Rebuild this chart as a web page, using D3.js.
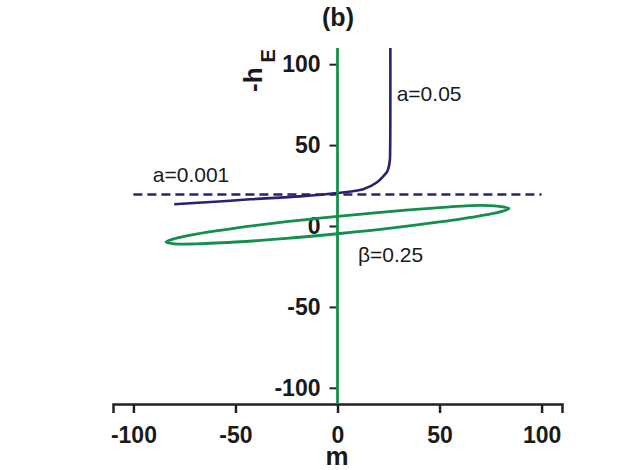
<!DOCTYPE html>
<html>
<head>
<meta charset="utf-8">
<script src="https://cdn.jsdelivr.net/npm/d3@7"></script>
<style>
  body { margin: 0; background: #fff; }
  svg text { font-family: "Liberation Sans", Arial, Helvetica, sans-serif; }
</style>
</head>
<body>
<div id="chart"></div>
<script>
// Data (m on x, -h_E on y)
var xTicks = [-100, -50, 0, 50, 100];
var yTicks = [-100, -50, 0, 50, 100];

// a=0.05 branch (solid navy)
var curveA005 = [
  [-80, 13.4], [-60, 15.0], [-42.8, 16.5], [-18.3, 18.3], [0, 20.4],
  [12.6, 22.7], [19.4, 27.0], [22.4, 30.7], [24.4, 33.8], [25.6, 40],
  [25.8, 47.3], [25.9, 78], [25.9, 110]
];

// a=0.001 (dashed navy, flat)
var lineA0001 = [[-100, 19.5], [100, 19.5]];

// beta=0.25 loop (green), traced round
var loopBeta = [
  [-84, -10.0], [-80, -7.9], [-70, -5.1], [-50, -1.3], [-25, 2.7], [0, 6.0],
  [25, 8.9], [50, 11.3], [65, 12.6], [75, 12.6], [81, 11.8], [84, 10.8],
  [81, 9.2], [70, 6.3], [50, 2.5], [25, -1.5], [0, -4.8], [-25, -7.7],
  [-50, -9.9], [-70, -11.1], [-80, -11.0]
];

// m = 0 branch (green vertical)
var lineM0 = [[0, -110], [0, 110]];

var labels = [
  {text: "a=0.05", m: 29.0, h: 77.5},
  {text: "a=0.001", m: -90.5, h: 27.5},
  {text: "\u03b2=0.25", m: 10.0, h: -22.5}
];

var navy = "#29226f";
var green = "#14904a";

var width = 622, height = 470;

var svg = d3.select("#chart").append("svg")
  .attr("width", width)
  .attr("height", height);

var x = d3.scaleLinear().domain([-110, 110]).range([113, 562]);
var y = d3.scaleLinear().domain([-110, 110]).range([404, 48]);

var line = d3.line()
  .x(function(d) { return x(d[0]); })
  .y(function(d) { return y(d[1]); });

// plain hyphen for negatives, like the original
var fmt = function(d) { return String(d); };

// x axis
var xAxis = svg.append("g")
  .attr("transform", "translate(0," + y(-110) + ")")
  .call(d3.axisBottom(x).tickValues(xTicks).tickFormat(fmt)
    .tickSizeOuter(0).tickSize(9).tickPadding(14));
xAxis.select(".domain").attr("stroke", "#222").attr("stroke-width", 2.5);
xAxis.selectAll(".tick line").attr("stroke", "#222").attr("stroke-width", 2.5);
xAxis.selectAll(".tick text")
  .attr("fill", "#1a1a1a")
  .style("font-size", "23px")
  .style("font-weight", "bold");

// y axis (ticks only, the green m=0 line sits on it)
var yAxis = svg.append("g")
  .attr("transform", "translate(" + x(0) + ",0)")
  .call(d3.axisLeft(y).tickValues(yTicks).tickFormat(fmt).tickSize(8).tickPadding(9));
yAxis.select(".domain").remove();
yAxis.selectAll(".tick line").attr("stroke", "#222").attr("stroke-width", 2);
yAxis.selectAll(".tick text")
  .attr("fill", "#1a1a1a")
  .style("font-size", "23px")
  .style("font-weight", "bold");

// curves
svg.append("path")
  .datum(lineA0001)
  .attr("d", line)
  .attr("fill", "none")
  .attr("stroke", navy)
  .attr("stroke-width", 2.6)
  .attr("stroke-dasharray", "9,5");

svg.append("path")
  .datum(loopBeta)
  .attr("d", line.curve(d3.curveCatmullRomClosed.alpha(0.5)))
  .attr("fill", "none")
  .attr("stroke", green)
  .attr("stroke-width", 2.8);

svg.append("path")
  .datum(curveA005)
  .attr("d", line.curve(d3.curveCatmullRom.alpha(0.5)))
  .attr("fill", "none")
  .attr("stroke", navy)
  .attr("stroke-width", 2.6);

svg.append("path")
  .datum(lineM0)
  .attr("d", line.curve(d3.curveLinear))
  .attr("fill", "none")
  .attr("stroke", green)
  .attr("stroke-width", 2.8);

// curve labels
svg.selectAll(".curve-label")
  .data(labels)
  .enter().append("text")
  .attr("class", "curve-label")
  .attr("x", function(d) { return x(d.m); })
  .attr("y", function(d) { return y(d.h); })
  .attr("fill", "#1a1a1a")
  .style("font-size", "21px")
  .text(function(d) { return d.text; });

// title
svg.append("text")
  .attr("x", 338)
  .attr("y", 26)
  .attr("text-anchor", "middle")
  .attr("fill", "#1a1a1a")
  .style("font-size", "25px")
  .style("font-weight", "bold")
  .text("(b)");

// x axis title
svg.append("text")
  .attr("x", 337)
  .attr("y", 465)
  .attr("text-anchor", "middle")
  .attr("fill", "#1a1a1a")
  .style("font-size", "26px")
  .style("font-weight", "bold")
  .text("m");

// y axis title: -h with subscript E
var yTitle = svg.append("text")
  .attr("transform", "translate(262,92) rotate(-90)")
  .attr("fill", "#1a1a1a")
  .style("font-weight", "bold");
yTitle.append("tspan").style("font-size", "26px").text("-h");
yTitle.append("tspan").attr("dx", 5).attr("dy", 13).style("font-size", "20px").text("E");
</script>
</body>
</html>
